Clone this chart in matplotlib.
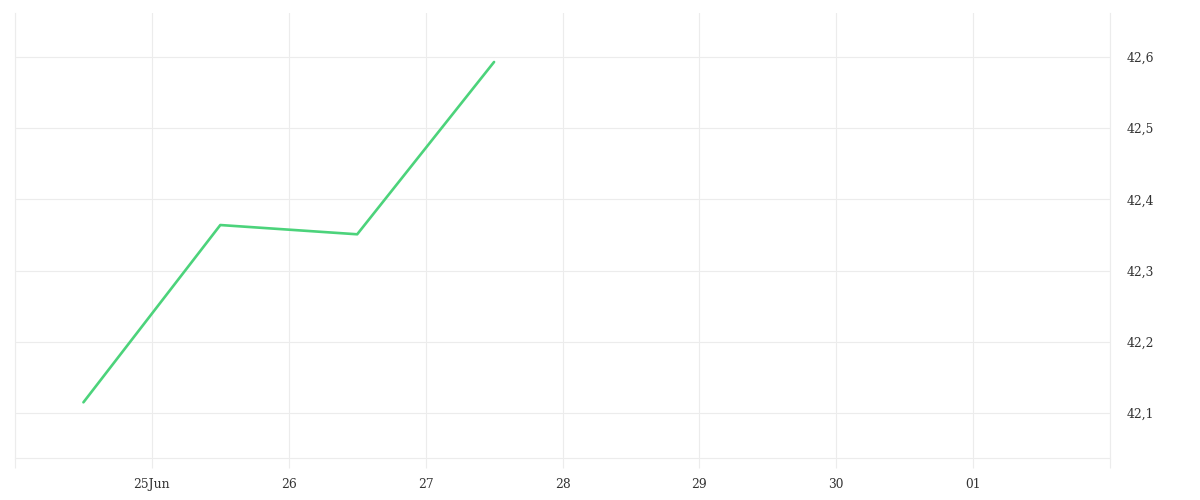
import matplotlib
matplotlib.use("Agg")
import matplotlib.pyplot as plt
import pandas as pd

# Data
dates = ["2024-06-24 12:00", "2024-06-25 12:00", "2024-06-26 12:00", "2024-06-27 12:00"]
values = [42.115, 42.364, 42.351, 42.593]
tick_days = ["2024-06-24", "2024-06-25", "2024-06-26", "2024-06-27", "2024-06-28",
             "2024-06-29", "2024-06-30", "2024-07-01", "2024-07-02"]
tick_labels = ["", "25Jun", "26", "27", "28", "29", "30", "01", ""]
y_ticks = [42.1, 42.2, 42.3, 42.4, 42.5, 42.6]
y_labels = ["42,1", "42,2", "42,3", "42,4", "42,5", "42,6"]

x = pd.to_datetime(dates)
ticks = pd.to_datetime(tick_days)

plt.rcParams['font.family'] = ['DejaVu Serif']

fig = plt.figure(figsize=(12, 5), dpi=100)
ax = fig.add_axes([15/1200, 1 - 458/500, (1110 - 15)/1200, (458 - 13)/500])

grid_c = "#ececec"
ax.plot(x, values, color="#4cd37b", linewidth=1.9, solid_capstyle="round", zorder=3)

ax.set_xlim(ticks[0], ticks[-1])
ax.set_ylim(42.1 - 45/712, 42.6 + 44/712)

ax.set_xticks(ticks)
ax.set_xticklabels(tick_labels)
ax.set_yticks(y_ticks)
ax.set_yticklabels(y_labels)

ax.yaxis.tick_right()
ax.tick_params(axis="y", length=0, pad=12, labelsize=8.8, labelcolor="#333333")
ax.tick_params(axis="x", length=7.5, width=0.8, color=grid_c, pad=7, labelsize=8.8, labelcolor="#333333")

ax.grid(True, color=grid_c, linewidth=0.8)
ax.set_axisbelow(True)

ax.spines["top"].set_visible(False)
for s in ["left", "right", "bottom"]:
    ax.spines[s].set_color(grid_c)
    ax.spines[s].set_linewidth(0.8)

fig.savefig("out.png", dpi=100, facecolor="white")
